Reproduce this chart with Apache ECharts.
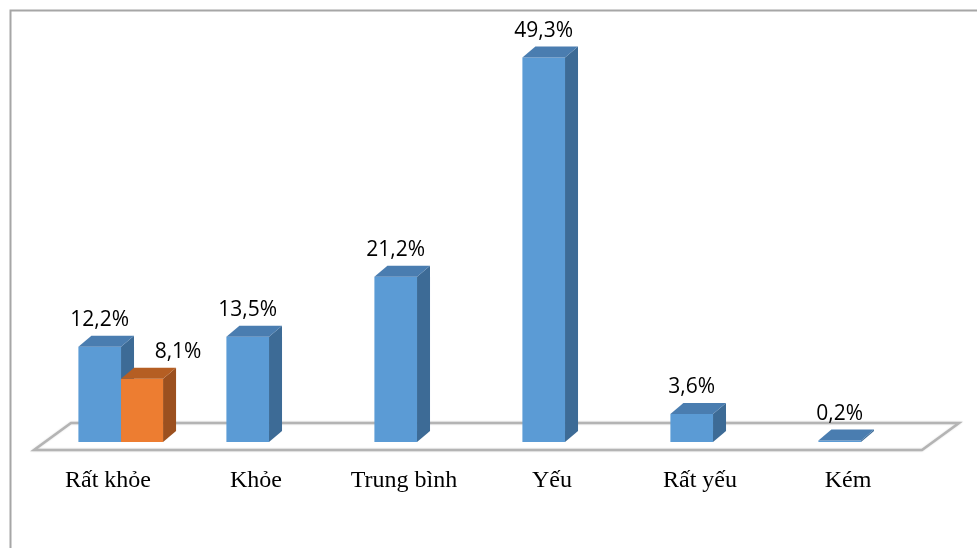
<!DOCTYPE html>
<html>
<head>
<meta charset="utf-8">
<script src="https://cdn.jsdelivr.net/npm/echarts@6/dist/echarts.min.js"></script>
<style>
  html, body { margin: 0; padding: 0; background: #fff; }
  #chart { width: 977px; height: 548px; }
</style>
</head>
<body>
<div id="chart"></div>
<script>
// Category names along the floor
var categories = ['Rất khỏe', 'Khỏe', 'Trung bình', 'Yếu', 'Rất yếu', 'Kém'];
// Main (blue) series, percent
var blueValues = [12.2, 13.5, 21.2, 49.3, 3.6, 0.2];
// Secondary (orange) series, only the first category has a value
var orangeValues = [8.1, null, null, null, null, null];

// Pseudo-3D styling
var DEPTH_X = 13, DEPTH_Y = 11;
var FLOOR_DX = 37, FLOOR_FRONT = 8, FLOOR_BACK = 19;
var palettes = {
  blue:   { front: '#5B9BD5', side: '#3D6B96', top: '#4A7DB0' },
  orange: { front: '#ED7D31', side: '#9C501F', top: '#B55E23' }
};

function fmt(v) {
  return v.toFixed(1).replace('.', ',') + '%';
}

function toData(values) {
  var out = [];
  values.forEach(function (v, i) { if (v != null) out.push([i, v]); });
  return out;
}

// Builds one box-shaped bar: front face, right side and top, plus its value label
function barRenderer(palette, startFrac, endFrac, labelShift) {
  return function (params, api) {
    var cat = api.value(0), val = api.value(1);
    var band = api.size([1, 0])[0];
    var top = api.coord([cat, val]);
    var base = api.coord([cat, 0]);
    var x0 = top[0] + startFrac * band;
    var x1 = top[0] + endFrac * band;
    var yT = top[1], yB = base[1];
    return {
      type: 'group',
      children: [
        { type: 'polygon',
          shape: { points: [[x1, yB], [x1, yT], [x1 + DEPTH_X, yT - DEPTH_Y], [x1 + DEPTH_X, yB - DEPTH_Y]] },
          style: { fill: palette.side } },
        { type: 'rect',
          shape: { x: x0, y: yT, width: x1 - x0, height: yB - yT },
          style: { fill: palette.front } },
        { type: 'polygon',
          shape: { points: [[x0, yT], [x1, yT], [x1 + DEPTH_X, yT - DEPTH_Y], [x0 + DEPTH_X, yT - DEPTH_Y]] },
          style: { fill: palette.top } },
        { type: 'text', z2: 10,
          style: {
            text: fmt(val),
            x: (x0 + x1) / 2 + labelShift,
            y: yT - DEPTH_Y - 5,
            align: 'center',
            verticalAlign: 'bottom',
            fontFamily: '"Open Sans", sans-serif',
            fontSize: 21,
            fill: '#000'
          } }
      ]
    };
  };
}

// Floor plate under all categories
function floorRenderer(params, api) {
  var band = api.size([1, 0])[0];
  var first = api.coord([0, 0]);
  var last = api.coord([categories.length - 1, 0]);
  var left = first[0] - band / 2, right = last[0] + band / 2, y = first[1];
  return {
    type: 'polygon',
    shape: { points: [
      [left, y + FLOOR_FRONT], [right, y + FLOOR_FRONT],
      [right + FLOOR_DX, y - FLOOR_BACK], [left + FLOOR_DX, y - FLOOR_BACK]
    ] },
    style: { fill: '#fff', stroke: '#B4B4B4', lineWidth: 2.5,
             shadowColor: 'rgba(0,0,0,0.15)', shadowBlur: 2 }
  };
}

var chart = echarts.init(document.getElementById('chart'));
chart.setOption({
  backgroundColor: '#fff',
  animation: false,
  grid: { left: 34, right: 55, top: 52, bottom: 106 },
  xAxis: {
    type: 'category',
    data: categories,
    axisLine: { show: false },
    axisTick: { show: false },
    axisLabel: {
      margin: 27,
      fontFamily: '"Liberation Serif", "Times New Roman", serif',
      fontSize: 24,
      color: '#000'
    }
  },
  yAxis: { type: 'value', min: 0, max: 50, show: false, splitLine: { show: false } },
  graphic: [
    { type: 'polyline', z: 100,
      shape: { points: [[10.5, 548], [10.5, 10.5], [977, 10.5]] },
      style: { stroke: '#A6A6A6', lineWidth: 2, fill: null } }
  ],
  series: [
    { type: 'custom', name: 'floor', z: 1, renderItem: floorRenderer, data: [[0, 0]] },
    { type: 'custom', name: 'blue', z: 2, renderItem: barRenderer(palettes.blue, -0.2, 0.088, 0),
      data: toData(blueValues) },
    { type: 'custom', name: 'orange', z: 3, renderItem: barRenderer(palettes.orange, 0.088, 0.372, 36),
      data: toData(orangeValues) }
  ]
});
</script>
</body>
</html>
